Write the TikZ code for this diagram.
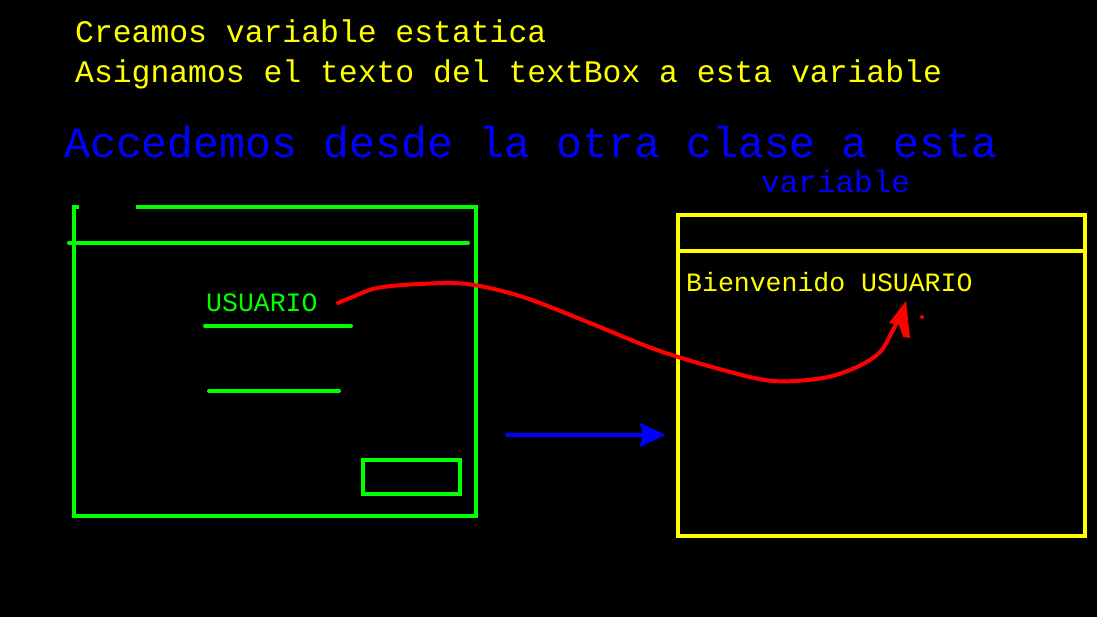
\documentclass[tikz,border=0pt]{standalone}
\usepackage{fontspec}
\setmonofont{Liberation Mono}
\usetikzlibrary{arrows.meta}
\definecolor{gr}{RGB}{0,255,0}
\definecolor{ye}{RGB}{255,255,0}
\definecolor{bl}{RGB}{0,0,255}
\definecolor{rd}{RGB}{255,0,0}
\tikzset{
  txt/.style={anchor=base west, inner sep=0pt, font=\ttfamily},
  winline/.style={line width=4pt},
}
\begin{document}
\begin{tikzpicture}[x=1pt,y=-1pt]
\fill[black] (0,0) rectangle (1097,617);
\useasboundingbox (0,0) rectangle (1097,617);
% top texts
\node[txt, text=ye, font=\ttfamily\fontsize{31.4}{36}\selectfont] (t1) at (75,43) {Creamos variable estatica};
\node[txt, text=ye, font=\ttfamily\fontsize{31.4}{36}\selectfont] (t2) at (75,83) {Asignamos el texto del textBox a esta variable};
\node[txt, text=bl, font=\ttfamily\fontsize{43.2}{48}\selectfont] (t3) at (64,158) {Accedemos desde la otra clase a esta};
\node[txt, text=bl, font=\ttfamily\fontsize{31}{36}\selectfont] (t4) at (761,193) {variable};
% green window
\draw[gr, winline] (79,207) -- (74,207) -- (74,516) -- (476,516) -- (476,207) -- (136,207);
\draw[gr, line width=4pt, line cap=round] (69,243) -- (468,243);
\node[txt, text=gr, font=\ttfamily\fontsize{26.5}{30}\selectfont] (usr) at (206,312) {USUARIO};
\draw[gr, line width=4pt, line cap=round] (205,326) -- (351,326);
\draw[gr, line width=4pt, line cap=round] (209,391) -- (339,391);
\draw[gr, line width=4pt] (363,460) rectangle (460,494);
% yellow window
\draw[ye, line width=4.5pt] (678,215) rectangle (1085,536);
\draw[ye, line width=4.5pt] (678,251) -- (1085,251);
\node[txt, text=ye, font=\ttfamily\fontsize{26.5}{30}\selectfont] (bien) at (686,292) {Bienvenido USUARIO};
% blue arrow
\coordinate (ba) at (507,435);
\coordinate (bb) at (662,435);
\draw[bl, line width=4pt, line cap=round] (ba) -- (bb);
\fill[bl] (bb) -- (640,423) -- (643,435) -- (640,447) -- cycle;
\draw[bl, line width=3pt, line join=round, line cap=round] (641,425) -- (bb) -- (641,445);
% red curve
\coordinate (rs) at (338,303);
\coordinate (re) at (903,310);
\draw[rd, line width=4pt, line cap=round, line join=round] plot[smooth, tension=0.55] coordinates {
 (rs) (350,298) (377,288) (420,284) (467,284) (523,297) (590,323) (657,350) (723,370) (773,381) (823,378) (857,367) (880,352) (893,330) (re)};
\fill[rd] (889,323) -- (906,301) -- (910,338) -- (903,337) -- (899,325) -- cycle;
\fill[rd] (922,317) circle (2pt);
\end{tikzpicture}
\end{document}
